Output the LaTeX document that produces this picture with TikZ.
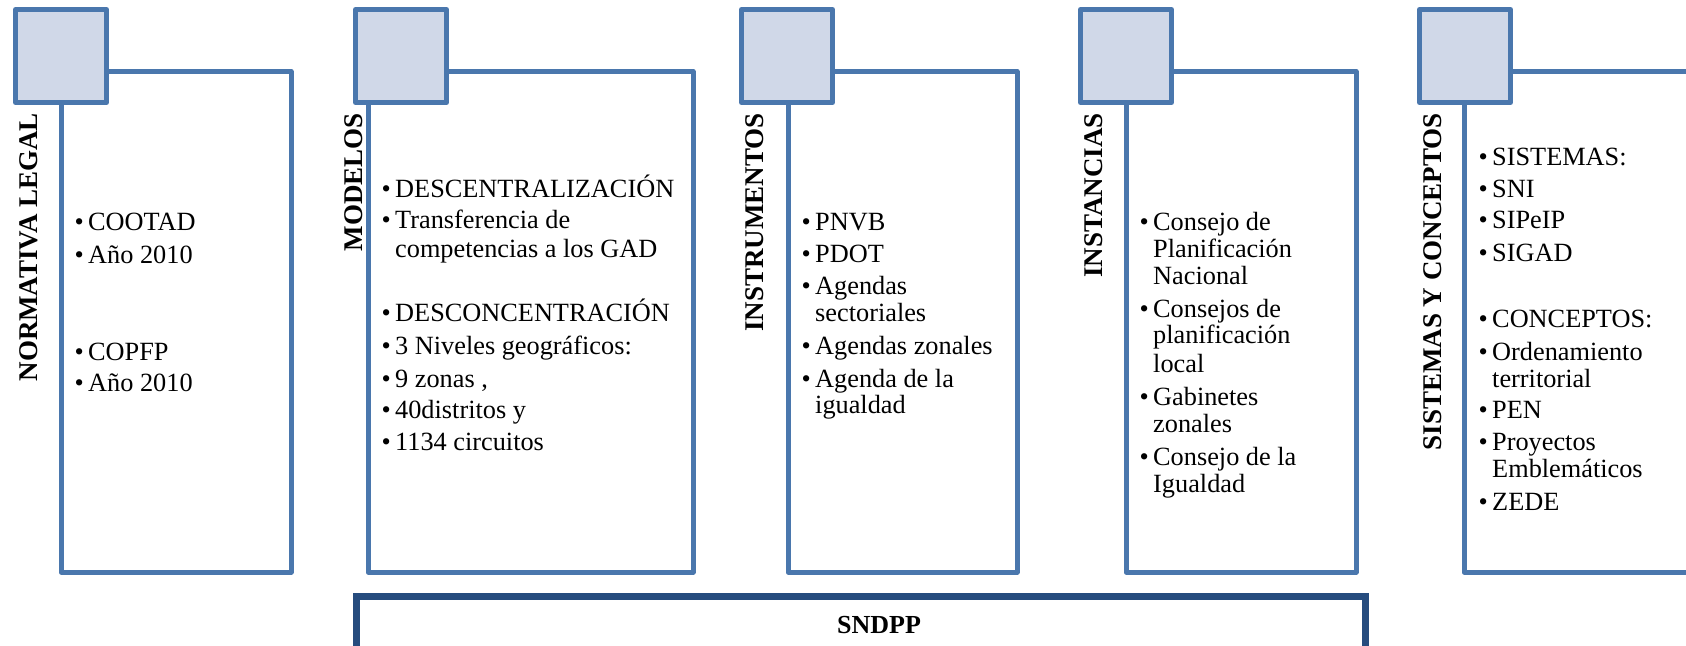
\documentclass[tikz,border=0pt]{standalone}
\usepackage{fontspec}
\setmainfont{Liberation Serif}
\definecolor{acc}{HTML}{4A77AD}
\definecolor{sqfill}{HTML}{D0D8E8}
\definecolor{dk}{HTML}{264C7E}
\tikzset{
  panel/.style={draw=acc, line width=5pt, line join=round},
  sqbox/.style={draw=acc, fill=sqfill, line width=5pt, line join=round},
  ttl/.style={rotate=90, anchor=base east, inner sep=0pt, font=\fontsize{27}{30}\selectfont\bfseries},
  itm/.style={anchor=base west, inner sep=0pt, font=\fontsize{26.3}{30}\selectfont},
  basebox/.style={draw=dk, line width=7pt},
  basetxt/.style={anchor=base, inner sep=0pt, font=\fontsize{26}{30}\selectfont\bfseries},
}
\newcommand{\bul}{\makebox[13.5pt][l]{•}}
\begin{document}
\begin{tikzpicture}[x=1pt,y=-1pt]
\useasboundingbox (0,0) rectangle (1686,645);
\clip (0,0) rectangle (1686,645);

% panels
\draw[panel] (61,71.5) rectangle (291,572);
\draw[panel] (368,71.5) rectangle (693,572);
\draw[panel] (788,71.5) rectangle (1017,572);
\draw[panel] (1126,71.5) rectangle (1356,572);
\draw[panel] (1464,71.5) rectangle (1720,572);

% squares
\draw[sqbox] (15.5,9.5) rectangle (106.5,102.5);
\draw[sqbox] (355.5,9.5) rectangle (446.5,102.5);
\draw[sqbox] (741.5,9.5) rectangle (832.5,102.5);
\draw[sqbox] (1080.5,9.5) rectangle (1171.5,102.5);
\draw[sqbox] (1419.5,9.5) rectangle (1510.5,102.5);

% titles
\node[ttl] (t1) at (37,113) {NORMATIVA LEGAL};
\node[ttl] (t2) at (362,113) {MODELOS};
\node[ttl] (t3) at (763,113) {INSTRUMENTOS};
\node[ttl] (t4) at (1102,113) {INSTANCIAS};
\node[ttl] (t5) at (1441,113) {SISTEMAS Y CONCEPTOS};

% box 1 (tx = 88)
\node[itm] (a1) at (74.5,230) {\bul COOTAD};
\node[itm] (a2) at (74.5,263) {\bul Año 2010};
\node[itm] (a3) at (74.5,360) {\bul COPFP};
\node[itm] (a4) at (74.5,391) {\bul Año 2010};

% box 2 (tx = 395)
\node[itm] (b1) at (381.5,197) {\bul DESCENTRALIZACIÓN};
\node[itm] (b2) at (381.5,228) {\bul Transferencia de};
\node[itm] (b3) at (395,257) {competencias a los GAD};
\node[itm] (b4) at (381.5,321) {\bul DESCONCENTRACIÓN};
\node[itm] (b5) at (381.5,354) {\bul 3 Niveles geográficos:};
\node[itm] (b6) at (381.5,387) {\bul 9 zonas ,};
\node[itm] (b7) at (381.5,418) {\bul 40distritos y};
\node[itm] (b8) at (381.5,450) {\bul 1134 circuitos};

% box 3 (tx = 815)
\node[itm] (c1) at (801.5,230) {\bul PNVB};
\node[itm] (c2) at (801.5,262) {\bul PDOT};
\node[itm] (c3) at (801.5,294) {\bul Agendas};
\node[itm] (c4) at (815,321) {sectoriales};
\node[itm] (c5) at (801.5,354) {\bul Agendas zonales};
\node[itm] (c6) at (801.5,387) {\bul Agenda de la};
\node[itm] (c7) at (815,413) {igualdad};

% box 4 (tx = 1153)
\node[itm] (d1) at (1139.5,230) {\bul Consejo de};
\node[itm] (d2) at (1153,257) {Planificación};
\node[itm] (d3) at (1153,284) {Nacional};
\node[itm] (d4) at (1139.5,317) {\bul Consejos de};
\node[itm] (d5) at (1153,343) {planificación};
\node[itm] (d6) at (1153,372) {local};
\node[itm] (d7) at (1139.5,405) {\bul Gabinetes};
\node[itm] (d8) at (1153,432) {zonales};
\node[itm] (d9) at (1139.5,465) {\bul Consejo de la};
\node[itm] (d10) at (1153,492) {Igualdad};

% box 5 (tx = 1492)
\node[itm] (e1) at (1478.5,165) {\bul SISTEMAS:};
\node[itm] (e2) at (1478.5,197) {\bul SNI};
\node[itm] (e3) at (1478.5,228) {\bul SIPeIP};
\node[itm] (e4) at (1478.5,261) {\bul SIGAD};
\node[itm] (e5) at (1478.5,327) {\bul CONCEPTOS:};
\node[itm] (e6) at (1478.5,360) {\bul Ordenamiento};
\node[itm] (e7) at (1492,387) {territorial};
\node[itm] (e8) at (1478.5,418) {\bul PEN};
\node[itm] (e9) at (1478.5,450) {\bul Proyectos};
\node[itm] (e10) at (1492,477) {Emblemáticos};
\node[itm] (e11) at (1478.5,510) {\bul ZEDE};

% base box
\draw[basebox] (356.5,596.5) rectangle (1365.5,690);
\node[basetxt] (sndpp) at (879,633) {SNDPP};
\end{tikzpicture}
\end{document}
